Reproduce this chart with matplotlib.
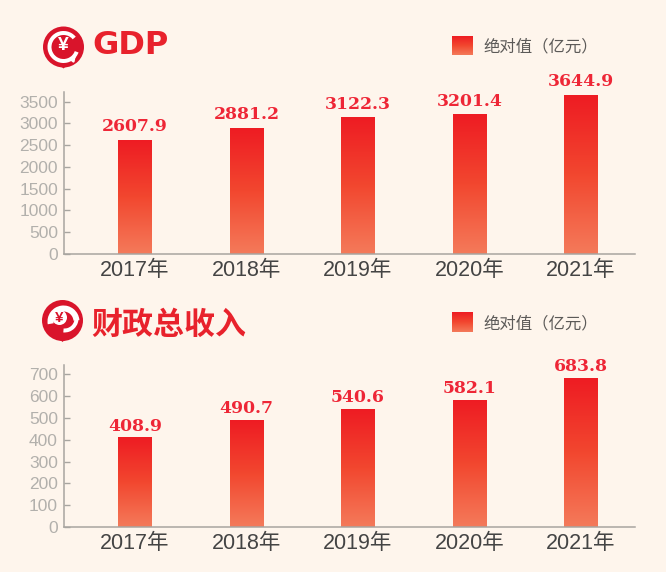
# -*- coding: utf-8 -*-
import numpy as np
import matplotlib
matplotlib.use("Agg")
import matplotlib.pyplot as plt
from matplotlib.colors import LinearSegmentedColormap
from matplotlib.patches import Circle, Polygon, Wedge, FancyArrowPatch

W, H = 666, 572
BG = "#fef5ec"
RED = "#e8222c"
ICON_RED = "#d9142b"
CJK = ["Liberation Sans", "Noto Sans CJK SC"]

years = ["2017年", "2018年", "2019年", "2020年", "2021年"]
gdp = [2607.9, 2881.2, 3122.3, 3201.4, 3644.9]
revenue = [408.9, 490.7, 540.6, 582.1, 683.8]
gdp_ticks = [0, 500, 1000, 1500, 2000, 2500, 3000, 3500]
revenue_ticks = [0, 100, 200, 300, 400, 500, 600, 700]
legend_label = "绝对值（亿元）"

GRAD = LinearSegmentedColormap.from_list("bar", ["#ee1c23", "#f2472f", "#f47a5a"])
GRAD_IMG = np.linspace(0, 1, 128).reshape(-1, 1)


def draw_bars(ax, values, ticks, ymax, label_gap):
    xs = np.arange(len(values))
    for x, v in zip(xs, values):
        ax.imshow(GRAD_IMG, cmap=GRAD, aspect="auto", zorder=2,
                  extent=(x - 0.152, x + 0.152, 0, v))
        ax.text(x, v + label_gap, f"{v:.1f}", ha="center", va="bottom", color="#ee2636",
                fontsize=12.4, fontweight="bold", family="DejaVu Serif")
    ax.set_xlim(-0.641, 4.484); ax.set_ylim(0, ymax)
    ax.set_xticks(xs, years, fontsize=15.5, color="#444444", family=CJK)
    ax.set_yticks(ticks)
    ax.tick_params(axis="x", length=0, pad=4)
    ax.tick_params(axis="y", direction="in", length=4, width=1, color="#a8a5a0",
                   labelsize=12.5, labelcolor="#b2b0ac", pad=4)
    for lab in ax.get_yticklabels():
        lab.set_family("Liberation Sans")
    ax.patch.set_alpha(0)
    for s in ("top", "right"):
        ax.spines[s].set_visible(False)
    for s in ("left", "bottom"):
        ax.spines[s].set_color("#a8a5a0"); ax.spines[s].set_linewidth(1.1)


def add_axes_px(fig, left, right, top, bottom):
    return fig.add_axes([left / W, 1 - bottom / H, (right - left) / W, (bottom - top) / H])


def icon_base(ov, cx, cy):
    ov.add_patch(Polygon([(cx - 5, cy + 17), (cx + 5, cy + 17), (cx, cy + 21.5)], color=ICON_RED, lw=0))
    ov.add_patch(Circle((cx, cy), 20.5, color=ICON_RED, lw=0))


def icon_gdp(ov, cx, cy):
    icon_base(ov, cx, cy)
    ov.add_patch(Wedge((cx, cy), 16, 20, 320, width=4, color="white", lw=0))
    ov.add_patch(FancyArrowPatch((cx + 3, cy + 13.5), (cx + 14, cy + 6), arrowstyle="-|>",
                                 mutation_scale=7, color="white", lw=1.6,
                                 connectionstyle="arc3,rad=0.25"))
    ov.text(cx, cy - 1, "¥", ha="center", va="center", color="white", fontsize=14,
            fontweight="bold", family="Liberation Sans")


def icon_revenue(ov, cx, cy):
    icon_base(ov, cx, cy)
    ov.add_patch(Wedge((cx + 1, cy + 1), 16, 170, 355, width=6, color="white", lw=0))
    ov.add_patch(Circle((cx - 3, cy - 3), 7.5, color="white", lw=0))
    ov.add_patch(Wedge((cx + 2, cy - 2), 14, -5, 95, width=4, color="white", lw=0))
    ov.text(cx - 3, cy - 3, "¥", ha="center", va="center", color=ICON_RED, fontsize=11,
            fontweight="bold", family="Liberation Sans")


def legend_item(ov, y_top, y_bot):
    ov.imshow(GRAD_IMG, cmap=GRAD, aspect="auto", extent=(452, 473, y_bot, y_top), zorder=2)
    ov.text(483, (y_top + y_bot) / 2 + 1.5, legend_label, ha="left", va="center", color="#5c5a58",
            fontsize=11.8, family="Noto Sans CJK SC")


def main():
    fig = plt.figure(figsize=(W / 100, H / 100), dpi=100, facecolor=BG)

    ax1 = add_axes_px(fig, 63.5, 635, 92, 254)
    draw_bars(ax1, gdp, gdp_ticks, 3719, 115)
    ax2 = add_axes_px(fig, 63.5, 635, 365, 527)
    draw_bars(ax2, revenue, revenue_ticks, 743.6, 15)

    # icons, titles and legends sit on a pixel-sized overlay
    ov = fig.add_axes([0, 0, 1, 1], zorder=5)
    ov.set_xlim(0, W); ov.set_ylim(H, 0); ov.axis("off"); ov.patch.set_alpha(0)
    icon_gdp(ov, 63.5, 47)
    icon_revenue(ov, 62.5, 320.5)
    ov.text(92, 46, "GDP", ha="left", va="center", color=RED, fontsize=23,
            fontweight="bold", family="DejaVu Sans")
    ov.text(91, 325, "财政总收入", ha="left", va="center", color=RED, fontsize=22.3,
            fontweight="bold", family="Noto Sans CJK SC")
    legend_item(ov, 36, 55)
    legend_item(ov, 312, 332)
    ov.set_xlim(0, W); ov.set_ylim(H, 0)

    fig.savefig("out.png", dpi=100, facecolor=BG)
    plt.close(fig)


if __name__ == "__main__":
    main()
